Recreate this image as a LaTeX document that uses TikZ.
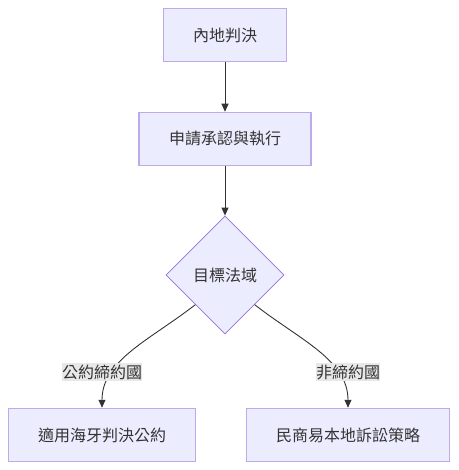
\documentclass[tikz,border=0pt]{standalone}
\usepackage{fontspec}
\setmainfont{Noto Sans CJK TC}
\usetikzlibrary{shapes.geometric,arrows.meta}
\definecolor{nodefill}{HTML}{ECECFF}
\definecolor{nodeline}{HTML}{BEA9E9}
\definecolor{diamline}{HTML}{9370DB}
\definecolor{edgeline}{HTML}{333333}
\definecolor{labelbg}{HTML}{E8E8E8}
\newcommand{\nodefont}{\fontsize{16}{19}\selectfont}
\tikzset{
  flowbox/.style={draw=nodeline,fill=nodefill,line width=1.5pt,
    minimum height=53pt,inner sep=0pt,text=edgeline,font=\nodefont},
  choice/.style={diamond,aspect=1,draw=diamline,fill=nodefill,line width=0.8pt,
    minimum size=118pt,inner sep=0pt,text=edgeline,font=\nodefont},
  flowedge/.style={draw=edgeline,line width=0.9pt,
    -{Triangle[length=8pt,width=7pt]}},
  edgelabel/.style={fill=labelbg,text=edgeline,inner xsep=0pt,inner ysep=2pt,
    font=\nodefont}
}

\begin{document}
\begin{tikzpicture}[x=1pt,y=1pt]
  \useasboundingbox (0,0) rectangle (458,-470);

  % nodes
  \node[flowbox,minimum width=123pt] (mainland) at (225,-35) {內地判決};
  \node[flowbox,minimum width=172pt] (apply) at (225,-139) {申請承認與執行};
  \node[choice] (target) at (225,-275) {目標法域};
  \node[flowbox,minimum width=187pt] (hague) at (102,-435) {適用海牙判決公約};
  \node[flowbox,minimum width=203pt] (local) at (348,-435) {民商易本地訴訟策略};

  % connectors
  \draw[flowedge] (mainland.south) -- (apply.north);
  \draw[flowedge] (apply.south) -- (target.north);
  \draw[flowedge] (target.south west) .. controls (150,-340) and (102,-360) .. (hague.north);
  \draw[flowedge] (target.south east) .. controls (300,-340) and (348,-360) .. (local.north);

  % edge labels
  \node[edgelabel] (member) at (102,-372) {公約締約國};
  \node[edgelabel] (nonmember) at (348,-372) {非締約國};
\end{tikzpicture}
\end{document}
